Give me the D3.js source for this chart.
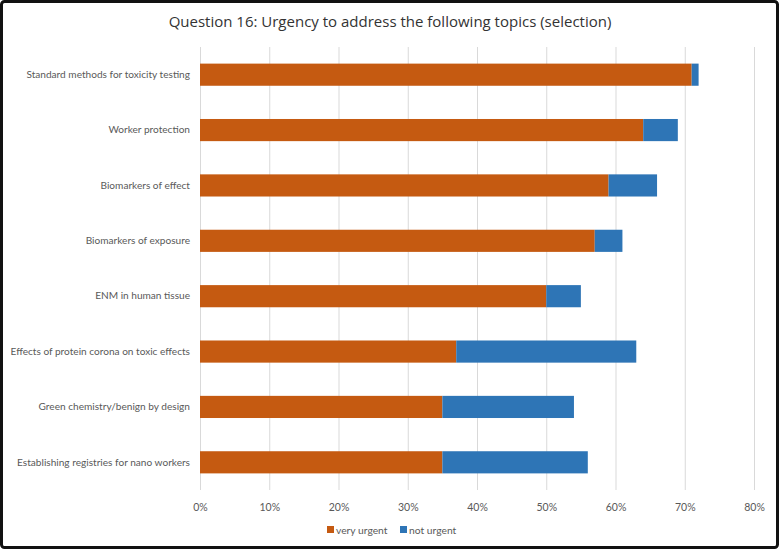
<!DOCTYPE html>
<html>
<head>
<meta charset="utf-8">
<script src="https://cdn.jsdelivr.net/npm/d3@7"></script>
<style>
  html, body { margin: 0; padding: 0; background: #fff; }
  svg { display: block; font-family: "Open Sans", "Noto Sans", sans-serif; }
  .axis text { fill: #595959; font-family: Lato, "Open Sans", sans-serif; }
</style>
</head>
<body>
<svg width="780" height="550"></svg>
<script>
var topics = [
  "Standard methods for toxicity testing",
  "Worker protection",
  "Biomarkers of effect",
  "Biomarkers of exposure",
  "ENM in human tissue",
  "Effects of protein corona on toxic effects",
  "Green chemistry/benign by design",
  "Establishing registries for nano workers"
];
var veryUrgent = [71, 64, 59, 57, 50, 37, 35, 35];
var notUrgent = [1, 5, 7, 4, 5, 26, 19, 21];
var seriesNames = ["very urgent", "not urgent"];
var seriesColors = ["#C55A11", "#2E75B6"];
var xTicks = [0, 10, 20, 30, 40, 50, 60, 70, 80];

var svg = d3.select("svg");
var margin = { top: 47, right: 26, bottom: 60, left: 200 };
var width = 780 - margin.left - margin.right;
var height = 550 - margin.top - margin.bottom;

// outer frame
svg.append("rect")
  .attr("x", 1.5).attr("y", 1.5)
  .attr("width", 776).attr("height", 546)
  .attr("rx", 3)
  .attr("fill", "none")
  .attr("stroke", "#111")
  .attr("stroke-width", 3);

svg.append("text")
  .attr("x", 390).attr("y", 27)
  .attr("text-anchor", "middle")
  .attr("font-size", "15px")
  .attr("fill", "#333")
  .text("Question 16: Urgency to address the following topics (selection)");

var g = svg.append("g")
  .attr("transform", "translate(" + margin.left + "," + margin.top + ")");

var x = d3.scaleLinear().domain([0, 80]).range([0, 554]);
var y = d3.scaleBand().domain(topics).range([0, height]).paddingInner(0.6).paddingOuter(0.3);

// gridlines
g.selectAll(".grid")
  .data(xTicks)
  .enter().append("line")
  .attr("class", "grid")
  .attr("x1", function (d) { return x(d) + 0.5; })
  .attr("x2", function (d) { return x(d) + 0.5; })
  .attr("y1", 0).attr("y2", height)
  .attr("stroke", "#d9d9d9")
  .attr("stroke-width", 1);

var rows = topics.map(function (t, i) {
  return { topic: t, a: veryUrgent[i], b: notUrgent[i] };
});

g.selectAll(".bar-a")
  .data(rows)
  .enter().append("rect")
  .attr("class", "bar-a")
  .attr("x", x(0))
  .attr("y", function (d) { return y(d.topic); })
  .attr("width", function (d) { return x(d.a) - x(0); })
  .attr("height", y.bandwidth())
  .attr("fill", seriesColors[0]);

g.selectAll(".bar-b")
  .data(rows)
  .enter().append("rect")
  .attr("class", "bar-b")
  .attr("x", function (d) { return x(d.a); })
  .attr("y", function (d) { return y(d.topic); })
  .attr("width", function (d) { return x(d.a + d.b) - x(d.a); })
  .attr("height", y.bandwidth())
  .attr("fill", seriesColors[1]);

// y axis labels
var yAxis = g.append("g")
  .attr("class", "axis")
  .call(d3.axisLeft(y).tickSize(0).tickPadding(10));
yAxis.select(".domain").remove();
yAxis.selectAll("text").attr("font-size", "10.1px");

// x axis labels
var xAxis = g.append("g")
  .attr("class", "axis")
  .attr("transform", "translate(0," + height + ")")
  .call(d3.axisBottom(x).tickValues(xTicks).tickSize(0).tickPadding(14)
    .tickFormat(function (d) { return d + "%"; }));
xAxis.select(".domain").remove();
xAxis.selectAll("text").attr("font-size", "10.5px");

// legend
var legend = svg.append("g").attr("transform", "translate(327,530)");
var lx = [0, 73];
seriesNames.forEach(function (name, i) {
  var item = legend.append("g").attr("transform", "translate(" + lx[i] + ",0)");
  item.append("rect")
    .attr("x", 0).attr("y", -4)
    .attr("width", 7).attr("height", 7)
    .attr("fill", seriesColors[i]);
  item.append("text")
    .attr("x", 9).attr("y", 3.5)
    .attr("font-size", "10.3px")
    .attr("font-family", "Lato, 'Open Sans', sans-serif")
    .attr("fill", "#595959")
    .text(name);
});
</script>
</body>
</html>
